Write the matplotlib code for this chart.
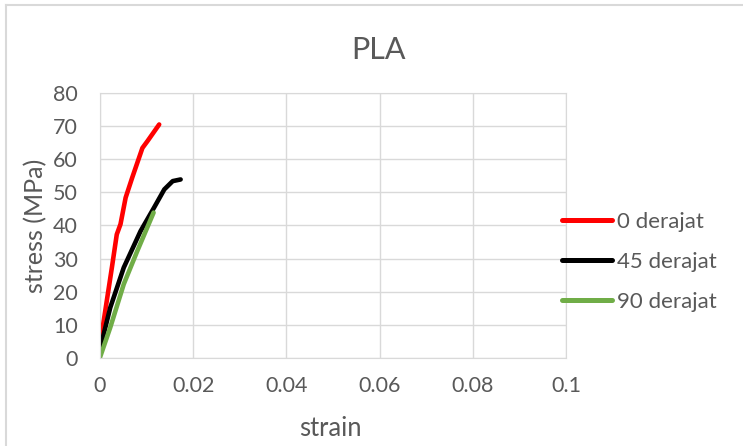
import matplotlib.pyplot as plt
from matplotlib.lines import Line2D

plt.rcParams['font.family'] = ['Lato', 'DejaVu Sans']

strain_0 = [0.0, 0.00036, 0.00255, 0.0036, 0.0044, 0.0055, 0.0069, 0.0091, 0.0102, 0.0127]
stress_0 = [4.0, 7.2, 27.3, 37.3, 40.4, 48.4, 54.4, 63.4, 65.5, 70.5]

strain_45 = [0.0, 0.0022, 0.0051, 0.0087, 0.0116, 0.0138, 0.0156, 0.0173]
stress_45 = [2.7, 15.2, 27.3, 38.3, 45.4, 50.9, 53.4, 53.9]

strain_90 = [0.0, 0.0022, 0.0051, 0.0080, 0.0115]
stress_90 = [0.2, 9.2, 22.3, 32.3, 43.9]

labels = ["0 derajat", "45 derajat", "90 derajat"]
colors = ["#ff0000", "#000000", "#70ad47"]
xticks = [0, 0.02, 0.04, 0.06, 0.08, 0.1]
xticklabels = ["0", "0.02", "0.04", "0.06", "0.08", "0.1"]

txt = "#595959"
grid = "#d9d9d9"
W, H = 743, 446

fig = plt.figure(figsize=(W / 100, H / 100), dpi=100)
ax = fig.add_axes([100 / W, 1 - 358 / H, 466 / W, 265 / H])

for xs, ys, lab, c in zip([strain_0, strain_45, strain_90],
                          [stress_0, stress_45, stress_90], labels, colors):
    ax.plot(xs, ys, color=c, linewidth=3.3, label=lab, solid_capstyle="round")

ax.set_xlim(0, 0.1)
ax.set_ylim(0, 80)
ax.set_xticks(xticks)
ax.set_xticklabels(xticklabels)
ax.set_yticks(range(0, 81, 10))
ax.grid(True, color=grid, linewidth=1)
ax.set_axisbelow(True)
for s in ax.spines.values():
    s.set_color(grid)
ax.tick_params(length=0, labelsize=15.5, colors=txt)
ax.tick_params(axis="x", pad=13)
ax.tick_params(axis="y", pad=16)

fig.text(378 / W, 1 - 50 / H, "PLA", fontsize=22, color=txt, ha="center", va="center")
fig.text(330 / W, 1 - 428 / H, "strain", fontsize=18.4, color=txt, ha="center", va="center")
fig.text(36 / W, 1 - 226 / H, "stress (MPa)", fontsize=18, color=txt, ha="center", va="center",
         rotation=90)

leg = ax.legend(loc="center left", bbox_to_anchor=(562 / W, 1 - 262 / H),
                bbox_transform=fig.transFigure, frameon=False, fontsize=16,
                handlelength=2.25, labelspacing=0.9, handletextpad=0.22,
                borderpad=0, borderaxespad=0)
for t in leg.get_texts():
    t.set_color(txt)
for h in leg.get_lines():
    h.set_linewidth(3.6)

fig.add_artist(Line2D([6 / W, 1], [1 - 5 / H, 1 - 5 / H], transform=fig.transFigure,
                      color=grid, linewidth=1.5))
fig.add_artist(Line2D([6 / W, 6 / W], [0, 1 - 5 / H], transform=fig.transFigure,
                      color=grid, linewidth=1.5))

fig.savefig("out.png", dpi=100)
